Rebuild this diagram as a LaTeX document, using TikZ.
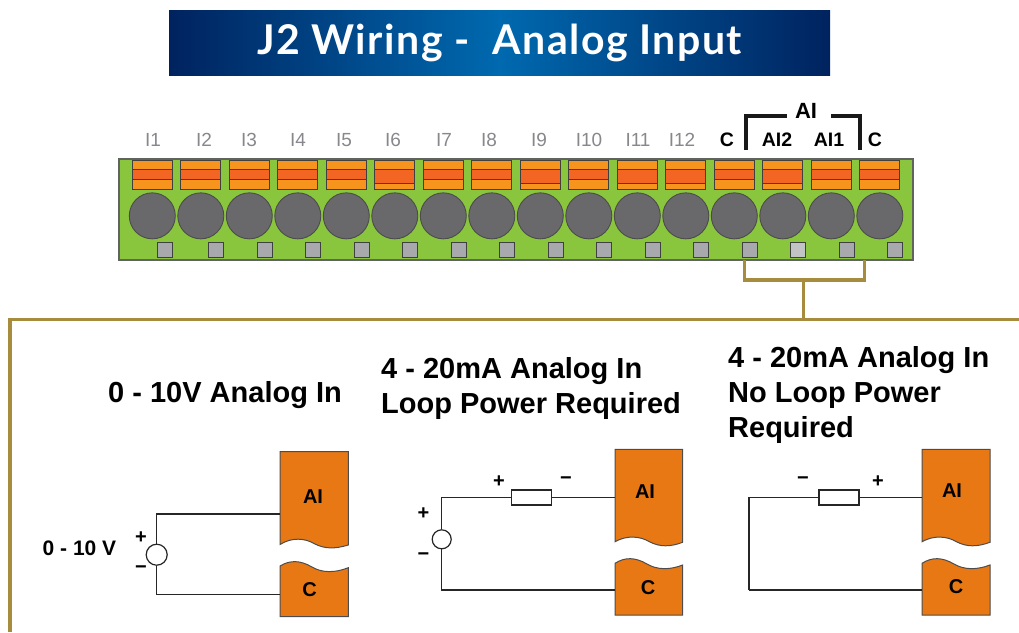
\documentclass[tikz,border=0pt]{standalone}
\usepackage{fontspec}
\setmainfont{Liberation Sans}
\newfontfamily\titlefont[LetterSpace=3.7]{Lato}
\usetikzlibrary{positioning, calc}
\definecolor{boardFill}{RGB}{138, 197, 62}
\definecolor{boardEdge}{RGB}{95, 100, 95}
\definecolor{springFill}{RGB}{247, 148, 30}
\definecolor{springBand}{RGB}{242, 101, 34}
\definecolor{screwFill}{RGB}{105, 105, 108}
\definecolor{tabFill}{RGB}{167, 169, 172}
\definecolor{labelGrey}{RGB}{135, 135, 140}
\definecolor{wireGold}{RGB}{166, 140, 60}
\definecolor{moduleFill}{RGB}{232, 120, 20}
\definecolor{titleDark}{RGB}{0, 35, 95}
\definecolor{titleLight}{RGB}{0, 105, 175}
\tikzstyle{spring} = [rectangle, minimum width=40pt, minimum height=29pt, inner sep=0pt, draw=black!75, fill=springFill, line width=0.9pt, path picture={
  \fill [springBand] ($(path picture bounding box.north west)+(0,-9.7pt)$) rectangle ($(path picture bounding box.south east)+(0,9.6pt)$);
  \draw [black!75, line width=0.9pt] ($(path picture bounding box.north west)+(0,-9.7pt)$) -- ($(path picture bounding box.north east)+(0,-9.7pt)$);
  \draw [black!75, line width=0.9pt] ($(path picture bounding box.south west)+(0,9.6pt)$) -- ($(path picture bounding box.south east)+(0,9.6pt)$);}]
\tikzstyle{springlow} = [rectangle, minimum width=40pt, minimum height=29pt, inner sep=0pt, draw=black!75, fill=springFill, line width=0.9pt, path picture={
  \fill [springBand] ($(path picture bounding box.north west)+(0,-9.7pt)$) rectangle ($(path picture bounding box.south east)+(0,5.6pt)$);
  \draw [black!75, line width=0.9pt] ($(path picture bounding box.north west)+(0,-9.7pt)$) -- ($(path picture bounding box.north east)+(0,-9.7pt)$);
  \draw [black!75, line width=0.9pt] ($(path picture bounding box.south west)+(0,5.6pt)$) -- ($(path picture bounding box.south east)+(0,5.6pt)$);}]
\tikzstyle{screw} = [circle, minimum size=46pt, inner sep=0pt, draw=black!70, fill=screwFill, line width=0.9pt]
\tikzstyle{tabbox} = [rectangle, minimum size=15pt, inner sep=0pt, draw=black!75, fill=tabFill, line width=0.9pt]
\tikzstyle{pinlabel} = [text=labelGrey, font=\fontsize{19}{19}\selectfont, inner sep=0pt]
\tikzstyle{pinbold} = [text=black, font=\fontsize{19.5}{19.5}\selectfont\bfseries, inner sep=0pt]
\tikzstyle{heading} = [anchor=west, align=left, inner sep=0pt, font=\fontsize{29}{35}\selectfont\bfseries]
\tikzstyle{modtext} = [font=\fontsize{20}{20}\selectfont\bfseries, inner sep=0pt]
\tikzstyle{sign} = [font=\fontsize{20}{20}\selectfont\bfseries, inner sep=0pt]
\tikzstyle{source} = [circle, minimum size=21pt, inner sep=0pt, draw=black!85, fill=white, line width=1.2pt]
\tikzstyle{load} = [rectangle, minimum width=40pt, minimum height=15pt, inner sep=0pt, draw=black!85, fill=white, line width=1.2pt]
\tikzstyle{wire} = [black!85, line width=1.3pt]
\tikzstyle{gold} = [wireGold, line width=3.5pt]
\tikzstyle{module} = [draw=black!70, fill=moduleFill, line width=1pt]
\begin{document}
\begin{tikzpicture}[x=1pt, y=-1pt, node distance=0pt]
\useasboundingbox (0,0) rectangle (1019,632);

\node (title) [rectangle, minimum width=661pt, minimum height=65pt, left color=titleDark, right color=titleDark, middle color=titleLight, text=white, font=\fontsize{41}{41}\selectfont\titlefont\bfseries] at (499.5,42.5) {J2 Wiring -\ \ Analog Input};

\node (board) [rectangle, minimum width=794pt, minimum height=101pt, inner sep=0pt, draw=boardEdge, fill=boardFill, line width=1.2pt] at (516,209.5) {};

\node (s1) [spring, anchor=north] at (152.3,159.5) {};
\node (s2) [spring, right=7.6pt of s1] {};
\node (s3) [spring, right=7.6pt of s2] {};
\node (s4) [spring, right=7.6pt of s3] {};
\node (s5) [spring, right=7.6pt of s4] {};
\node (s6) [springlow, right=7.6pt of s5] {};
\node (s7) [spring, right=7.6pt of s6] {};
\node (s8) [spring, right=7.6pt of s7] {};
\node (s9) [springlow, right=7.6pt of s8] {};
\node (s10) [spring, right=7.6pt of s9] {};
\node (s11) [springlow, right=7.6pt of s10] {};
\node (s12) [springlow, right=7.6pt of s11] {};
\node (s13) [spring, right=7.6pt of s12] {};
\node (s14) [springlow, right=7.6pt of s13] {};
\node (s15) [spring, right=7.6pt of s14] {};
\node (s16) [spring, right=7.6pt of s15] {};

\node (c1) [screw, below=3pt of s1] {};
\node (c2) [screw, below=3pt of s2] {};
\node (c3) [screw, below=3pt of s3] {};
\node (c4) [screw, below=3pt of s4] {};
\node (c5) [screw, below=3pt of s5] {};
\node (c6) [screw, below=3pt of s6] {};
\node (c7) [screw, below=3pt of s7] {};
\node (c8) [screw, below=3pt of s8] {};
\node (c9) [screw, below=3pt of s9] {};
\node (c10) [screw, below=3pt of s10] {};
\node (c11) [screw, below=3pt of s11] {};
\node (c12) [screw, below=3pt of s12] {};
\node (c13) [screw, below=3pt of s13] {};
\node (c14) [screw, below=3pt of s14] {};
\node (c15) [screw, below=3pt of s15] {};
\node (c16) [screw, below=3pt of s16] {};

\node (t1) [tabbox, xshift=12.5pt, yshift=-2.7pt, anchor=north] at(c1.south) {};
\node (t2) [tabbox, xshift=15.5pt, yshift=-2.7pt, anchor=north] at(c2.south) {};
\node (t3) [tabbox, xshift=15.5pt, yshift=-2.7pt, anchor=north] at(c3.south) {};
\node (t4) [tabbox, xshift=15.5pt, yshift=-2.7pt, anchor=north] at(c4.south) {};
\node (t5) [tabbox, xshift=15.5pt, yshift=-2.7pt, anchor=north] at(c5.south) {};
\node (t6) [tabbox, xshift=15.5pt, yshift=-2.7pt, anchor=north] at(c6.south) {};
\node (t7) [tabbox, xshift=15.5pt, yshift=-2.7pt, anchor=north] at(c7.south) {};
\node (t8) [tabbox, xshift=15.5pt, yshift=-2.7pt, anchor=north] at(c8.south) {};
\node (t9) [tabbox, xshift=15.5pt, yshift=-2.7pt, anchor=north] at(c9.south) {};
\node (t10) [tabbox, xshift=15.5pt, yshift=-2.7pt, anchor=north] at(c10.south) {};
\node (t11) [tabbox, xshift=15.5pt, yshift=-2.7pt, anchor=north] at(c11.south) {};
\node (t12) [tabbox, xshift=15.5pt, yshift=-2.7pt, anchor=north] at(c12.south) {};
\node (t13) [tabbox, xshift=15.5pt, yshift=-2.7pt, anchor=north] at(c13.south) {};
\node (t14) [tabbox, xshift=15.5pt, yshift=-2.7pt, anchor=north, fill=tabFill!70!white] at(c14.south) {};
\node (t15) [tabbox, xshift=15.5pt, yshift=-2.7pt, anchor=north] at(c15.south) {};
\node (t16) [tabbox, xshift=15.5pt, yshift=-2.7pt, anchor=north] at(c16.south) {};

\node (l1) [pinlabel] at (153,140) {I1};
\node (l2) [pinlabel] at (204,140) {I2};
\node (l3) [pinlabel] at (249,140) {I3};
\node (l4) [pinlabel] at (298,140) {I4};
\node (l5) [pinlabel] at (344,140) {I5};
\node (l6) [pinlabel] at (393,140) {I6};
\node (l7) [pinlabel] at (444,140) {I7};
\node (l8) [pinlabel] at (489,140) {I8};
\node (l9) [pinlabel] at (539,140) {I9};
\node (l10) [pinlabel] at (589,140) {I10};
\node (l11) [pinlabel] at (638,140) {I11};
\node (l12) [pinlabel] at (682,140) {I12};
\node (l13) [pinbold] at (727,140) {C};
\node (l14) [pinbold] at (777,140) {AI2};
\node (l15) [pinbold] at (829,140) {AI1};
\node (l16) [pinbold] at (875,140) {C};
\node (ai) [pinbold, font=\fontsize{22}{22}\selectfont\bfseries, minimum width=44pt] at (806,111) {AI};

\coordinate (brL) at (746,150);
\coordinate (brR) at (860,150);
\draw [black!90, line width=4.5pt] (brL) |- ($(ai.west)+(3,5)$);
\draw [black!90, line width=4.5pt] (brR) |- ($(ai.east)+(3,5)$);

\coordinate (goldL) at (744.5,260);
\coordinate (goldR) at (864.5,260);
\coordinate (goldMid) at (803.5,280);
\coordinate (frameTop) at (803.5,319.5);
\coordinate (frameLeft) at (10,632);
\coordinate (frameRight) at (1019,319.5);
\draw [gold] (goldL) |- (goldMid) -| (goldR);
\draw [gold] (goldMid) -- (frameTop);
\draw [gold] (frameLeft) |- (frameRight);

\node (head1) [heading] at (108,395) {0 - 10V Analog In};
\node (head2) [heading] at (381,388) {4 - 20mA Analog In\\Loop Power Required};
\node (head3) [heading] at (728,394.5) {4 - 20mA Analog In\\No Loop Power\\Required};

% first circuit
\draw [module] (280,451.7) -- (348.3,451.7) -- (348.3,545) .. controls (335,549) and (325,549) .. (315,544) .. controls (305,538) and (292,537) .. (280,544.5) -- cycle;
\draw [module] (280,566) .. controls (290,560) and (300,560) .. (312,567) .. controls (322,573) and (335,573) .. (348.3,567.7) -- (348.3,616.7) -- (280,616.7) -- cycle;
\node (ai1) [modtext] at (313,497) {AI};
\node (c1t) [modtext] at (309.5,590) {C};
\coordinate (ai1in) at (280,514);
\coordinate (c1in) at (280,594.3);
\node (src1) [source] at (156.7,554.7) {};
\draw [wire] (src1.north) |- (ai1in);
\draw [wire] (src1.south) |- (c1in);
\node (plus1) [sign] at (141,538) {+};
\node (minus1) [sign] at (141,570) {\textminus};
\node (volt) [modtext, font=\fontsize{21}{21}\selectfont\bfseries] at (79.5,548) {0 - 10 V};

% second circuit
\draw [module] (615,449.3) -- (682.7,449.3) -- (682.7,542.3) .. controls (670,547) and (660,547) .. (650,542) .. controls (640,536) and (627,535) .. (615,541.7) -- cycle;
\draw [module] (615,563.3) .. controls (625,557) and (635,557) .. (647,564) .. controls (657,570) and (670,570) .. (682.7,565) -- (682.7,615) -- (615,615) -- cycle;
\node (ai2) [modtext] at (645,491.7) {AI};
\node (c2t) [modtext] at (648,587.7) {C};
\coordinate (ai2in) at (615,497.5);
\coordinate (c2in) at (615,590);
\node (src2) [source, minimum size=19pt] at (441.7,539.3) {};
\node (res2) [load] at (531.7,497.5) {};
\draw [wire] (src2.north) |- (res2.west);
\draw [wire] (res2.east) -- (ai2in);
\draw [wire] (src2.south) |- (c2in);
\node (plus2) [sign] at (423.5,514) {+};
\node (minus2) [sign] at (423.5,557) {\textminus};
\node (plus2r) [sign] at (499,482) {+};
\node (minus2r) [sign] at (566,481) {\textminus};

% third circuit
\draw [module] (922,449.3) -- (990,449.3) -- (990,542.3) .. controls (977,547) and (967,547) .. (957,542) .. controls (947,536) and (934,535) .. (922,541.7) -- cycle;
\draw [module] (922,563.3) .. controls (932,557) and (942,557) .. (954,564) .. controls (964,570) and (977,570) .. (990,565) -- (990,615) -- (922,615) -- cycle;
\node (ai3) [modtext] at (952,491) {AI};
\node (c3t) [modtext] at (956,587) {C};
\coordinate (ai3in) at (922,497.5);
\coordinate (c3in) at (922,590);
\coordinate (corner3) at (749,590);
\node (res3) [load] at (839,497.5) {};
\draw [wire] (corner3) |- (res3.west);
\draw [wire] (res3.east) -- (ai3in);
\draw [wire] (corner3) -- (c3in);
\node (minus3) [sign] at (803,481) {\textminus};
\node (plus3) [sign] at (878,482) {+};

\end{tikzpicture}
\end{document}
